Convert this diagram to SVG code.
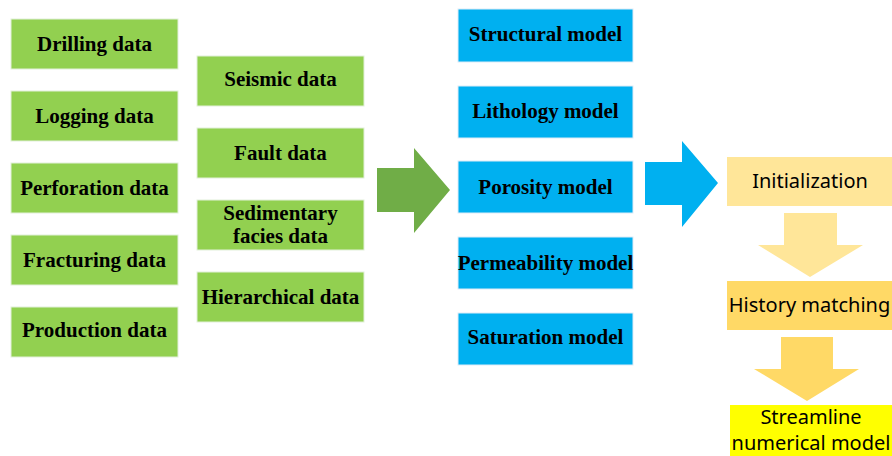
<svg xmlns="http://www.w3.org/2000/svg" width="892" height="456" viewBox="0 0 892 456">
<style>
.g{fill:#92D050;stroke:#E2F0D9;stroke-width:1}
.b{fill:#00B0F0;stroke:#DDEBF7;stroke-width:1}
.t{font-family:"Liberation Serif","Times New Roman",serif;font-weight:bold;font-size:21px;fill:#000;text-anchor:middle}
.s{font-family:"Noto Sans","Open Sans",sans-serif;font-size:20px;fill:#000;text-anchor:middle}
</style>
<rect width="892" height="456" fill="#fff"/>
<g id="drilling"><rect class="g" x="11" y="19" width="167" height="50"/><text class="t" x="94.5" y="51">Drilling data</text></g>
<g id="logging"><rect class="g" x="11" y="91" width="167" height="50"/><text class="t" x="94.5" y="123">Logging data</text></g>
<g id="perforation"><rect class="g" x="11" y="163" width="167" height="50"/><text class="t" x="94.5" y="195">Perforation data</text></g>
<g id="fracturing"><rect class="g" x="11" y="235" width="167" height="50"/><text class="t" x="94.5" y="267">Fracturing data</text></g>
<g id="production"><rect class="g" x="11" y="307" width="167" height="50"/><text class="t" x="94.5" y="337">Production data</text></g>
<g id="seismic"><rect class="g" x="197" y="56" width="167" height="50"/><text class="t" x="280.5" y="86">Seismic data</text></g>
<g id="fault"><rect class="g" x="197" y="128" width="167" height="50"/><text class="t" x="280.5" y="160">Fault data</text></g>
<g id="sedimentary"><rect class="g" x="197" y="200" width="167" height="50"/><text class="t" x="280.5" y="220">Sedimentary</text><text class="t" x="280.5" y="243">facies data</text></g>
<g id="hierarchical"><rect class="g" x="197" y="272" width="167" height="50"/><text class="t" x="280.5" y="304">Hierarchical data</text></g>
<g id="structural"><rect class="b" x="458" y="9" width="175" height="53"/><text class="t" x="545.5" y="41">Structural model</text></g>
<g id="lithology"><rect class="b" x="458" y="86" width="175" height="52"/><text class="t" x="545.5" y="118">Lithology model</text></g>
<g id="porosity"><rect class="b" x="458" y="161" width="175" height="52"/><text class="t" x="545.5" y="194">Porosity model</text></g>
<g id="permeability"><rect class="b" x="458" y="237" width="175" height="52"/><text class="t" x="545.5" y="270">Permeability model</text></g>
<g id="saturation"><rect class="b" x="458" y="313" width="175" height="52"/><text class="t" x="545.5" y="344">Saturation model</text></g>
<g id="initialization"><rect x="727" y="157" width="166" height="49" fill="#FFE699"/><text class="s" x="810" y="188">Initialization</text></g>
<g id="history"><rect x="727" y="281" width="166" height="49" fill="#FFD966"/><text class="s" x="809.5" y="312">History matching</text></g>
<g id="streamline"><rect x="730" y="405" width="163" height="52" fill="#FFFF00"/><text class="s" x="811" y="424">Streamline</text><text class="s" x="811" y="450">numerical model</text></g>
<g id="connectors">
<polygon points="377,168 414,168 414,148 450,190 414,233 414,212 377,212" fill="#70AD47"/>
<polygon points="645,162 682,162 682,141 718,183 682,227 682,205 645,205" fill="#00B0F0"/>
<polygon points="784,213 837,213 837,245 863,245 810,277 758,245 784,245" fill="#FFE699"/>
<polygon points="781,337 833,337 833,369 859,369 807,401 754,369 781,369" fill="#FFD966"/>
</g>
</svg>
